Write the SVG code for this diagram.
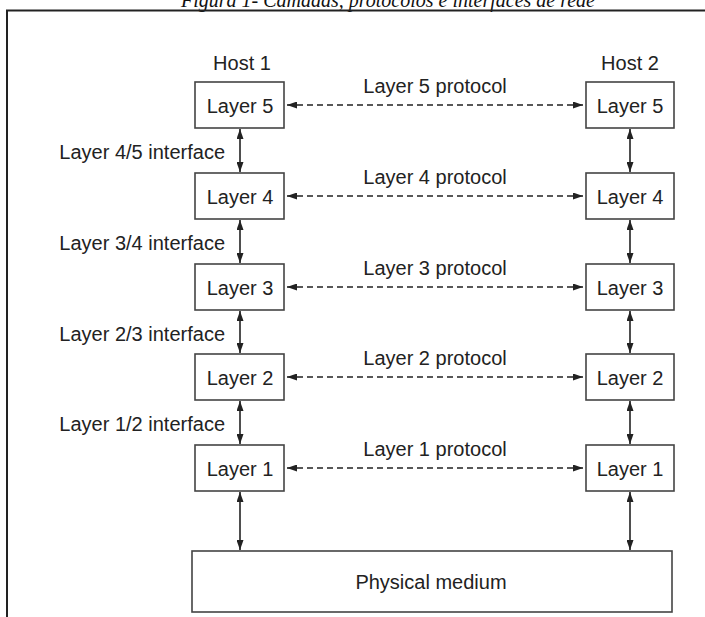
<svg xmlns="http://www.w3.org/2000/svg" width="705" height="617" viewBox="0 0 705 617">
<style>
.t{font-family:"Liberation Sans",Arial,sans-serif;font-size:20px;fill:#222}
.c{text-anchor:middle}
.r{text-anchor:end}
.box{fill:#fff;stroke:#444;stroke-width:1.6}
.v{stroke:#222;stroke-width:1.6;fill:none}
.d{stroke:#222;stroke-width:1.4;fill:none;stroke-dasharray:6 4}
.cap{font-family:"Liberation Serif","Times New Roman",serif;font-style:italic;font-size:20px;fill:#111;text-anchor:middle}
</style>
<defs>
<marker id="ah" viewBox="0 0 10 8" refX="10" refY="4" markerWidth="10" markerHeight="7" markerUnits="userSpaceOnUse" orient="auto-start-reverse" preserveAspectRatio="none">
<path d="M0,0 L10,4 L0,8 z" fill="#222"/>
</marker>
</defs>
<rect width="705" height="617" fill="#fff"/>
<text class="cap" x="388" y="7">Figura 1- Camadas, protocolos e interfaces de rede</text>
<path d="M7,617 V10.5 H705" fill="none" stroke="#222" stroke-width="2"/>
<text class="t c" x="242" y="70">Host 1</text>
<text class="t c" x="630" y="70">Host 2</text>
<g id="h1l5"><rect class="box" x="195" y="82" width="89" height="46"/><text class="t c" x="240" y="113">Layer 5</text></g>
<g id="h1l4"><rect class="box" x="195" y="173" width="89" height="46"/><text class="t c" x="240" y="204">Layer 4</text></g>
<g id="h1l3"><rect class="box" x="195" y="264" width="89" height="46"/><text class="t c" x="240" y="295">Layer 3</text></g>
<g id="h1l2"><rect class="box" x="195" y="354" width="89" height="46"/><text class="t c" x="240" y="385">Layer 2</text></g>
<g id="h1l1"><rect class="box" x="195" y="445" width="89" height="46"/><text class="t c" x="240" y="476">Layer 1</text></g>
<g id="h2l5"><rect class="box" x="586" y="82" width="88" height="46"/><text class="t c" x="630" y="113">Layer 5</text></g>
<g id="h2l4"><rect class="box" x="586" y="173" width="88" height="46"/><text class="t c" x="630" y="204">Layer 4</text></g>
<g id="h2l3"><rect class="box" x="586" y="264" width="88" height="46"/><text class="t c" x="630" y="295">Layer 3</text></g>
<g id="h2l2"><rect class="box" x="586" y="354" width="88" height="46"/><text class="t c" x="630" y="385">Layer 2</text></g>
<g id="h2l1"><rect class="box" x="586" y="445" width="88" height="46"/><text class="t c" x="630" y="476">Layer 1</text></g>
<g id="phys"><rect class="box" x="192" y="551" width="480" height="61"/><text class="t c" x="431" y="589">Physical medium</text></g>
<g id="connectors">
<line class="d" x1="287" y1="105" x2="583" y2="105" marker-start="url(#ah)" marker-end="url(#ah)"/>
<line class="d" x1="287" y1="196" x2="583" y2="196" marker-start="url(#ah)" marker-end="url(#ah)"/>
<line class="d" x1="287" y1="287" x2="583" y2="287" marker-start="url(#ah)" marker-end="url(#ah)"/>
<line class="d" x1="287" y1="377" x2="583" y2="377" marker-start="url(#ah)" marker-end="url(#ah)"/>
<line class="d" x1="287" y1="468" x2="583" y2="468" marker-start="url(#ah)" marker-end="url(#ah)"/>
<line class="v" x1="240" y1="129" x2="240" y2="172" marker-start="url(#ah)" marker-end="url(#ah)"/>
<line class="v" x1="240" y1="220" x2="240" y2="263" marker-start="url(#ah)" marker-end="url(#ah)"/>
<line class="v" x1="240" y1="311" x2="240" y2="353" marker-start="url(#ah)" marker-end="url(#ah)"/>
<line class="v" x1="240" y1="401" x2="240" y2="444" marker-start="url(#ah)" marker-end="url(#ah)"/>
<line class="v" x1="240" y1="492" x2="240" y2="550" marker-start="url(#ah)" marker-end="url(#ah)"/>
<line class="v" x1="630" y1="129" x2="630" y2="172" marker-start="url(#ah)" marker-end="url(#ah)"/>
<line class="v" x1="630" y1="220" x2="630" y2="263" marker-start="url(#ah)" marker-end="url(#ah)"/>
<line class="v" x1="630" y1="311" x2="630" y2="353" marker-start="url(#ah)" marker-end="url(#ah)"/>
<line class="v" x1="630" y1="401" x2="630" y2="444" marker-start="url(#ah)" marker-end="url(#ah)"/>
<line class="v" x1="630" y1="492" x2="630" y2="550" marker-start="url(#ah)" marker-end="url(#ah)"/>
</g>
<text class="t c" x="435" y="93">Layer 5 protocol</text>
<text class="t c" x="435" y="184">Layer 4 protocol</text>
<text class="t c" x="435" y="275">Layer 3 protocol</text>
<text class="t c" x="435" y="365">Layer 2 protocol</text>
<text class="t c" x="435" y="456">Layer 1 protocol</text>
<text class="t r" x="225" y="159">Layer 4/5 interface</text>
<text class="t r" x="225" y="250">Layer 3/4 interface</text>
<text class="t r" x="225" y="341">Layer 2/3 interface</text>
<text class="t r" x="225" y="431">Layer 1/2 interface</text>
</svg>
